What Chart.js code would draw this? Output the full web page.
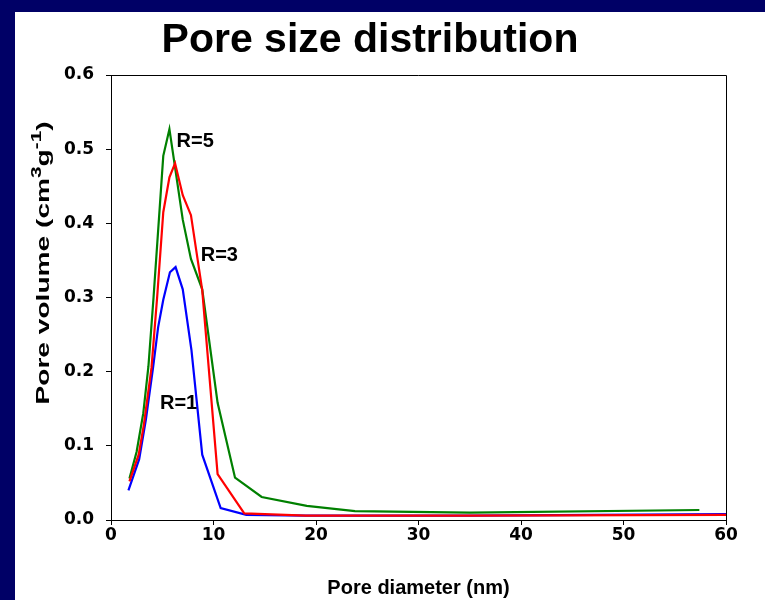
<!DOCTYPE html>
<html>
<head>
<meta charset="utf-8">
<script src="https://cdn.jsdelivr.net/npm/chart.js@4.4.0/dist/chart.umd.min.js"></script>
<style>
  body { margin: 0; background: #000066; }
  #wrap { position: absolute; left: 15px; top: 12px; width: 750px; height: 588px; background: #fff; }
</style>
</head>
<body>
<div id="wrap"><canvas id="chart" width="750" height="588"></canvas></div>
<script>
// pore diameter (nm) / pore volume (cm3/g)
const r1Diameter = [1.7, 2.75, 3.4, 4.1, 4.6, 5.1, 5.75, 6.3, 7.0, 7.85, 8.9, 10.7, 13.2, 19, 24, 35, 60];
const r1Volume   = [0.040, 0.082, 0.135, 0.205, 0.26, 0.297, 0.334, 0.341, 0.311, 0.229, 0.088, 0.016, 0.007, 0.006, 0.006, 0.006, 0.008];

const r3Diameter = [1.8, 2.7, 3.2, 3.95, 4.5, 5.1, 5.7, 6.25, 7.0, 7.8, 8.9, 10.4, 13.0, 19, 24, 35, 60];
const r3Volume   = [0.052, 0.088, 0.128, 0.205, 0.30, 0.415, 0.462, 0.481, 0.438, 0.411, 0.310, 0.062, 0.009, 0.006, 0.006, 0.006, 0.007];

const r5Diameter = [1.8, 2.5, 3.15, 3.65, 4.15, 5.1, 5.7, 7.0, 7.8, 8.9, 10.4, 12.1, 14.7, 19.1, 23.8, 35, 57.4];
const r5Volume   = [0.056, 0.092, 0.144, 0.207, 0.30, 0.491, 0.527, 0.405, 0.352, 0.311, 0.158, 0.057, 0.031, 0.019, 0.012, 0.010, 0.0135];

const seriesNames = ['R=3', 'R=5', 'R=1'];
const seriesColors = ['#ff0000', '#008000', '#0000ff'];

// where the R= labels sit, in data units
const noteText = ['R=5', 'R=3', 'R=1'];
const noteX = [6.4, 8.75, 4.78];
const noteY = [0.511, 0.357, 0.157];

const FONT = "'Liberation Sans', Arial, sans-serif";
const TICKFONT = "'DejaVu Sans', Arial, sans-serif";

function toPoints(xs, ys) {
  return xs.map((x, i) => ({ x: x, y: ys[i] }));
}

const framePlugin = {
  id: 'frame',
  afterDatasetsDraw(chart) {
    const a = chart.chartArea;
    const c = chart.ctx;
    c.save();
    c.strokeStyle = '#000';
    c.lineWidth = 1;
    c.beginPath();
    c.moveTo(a.left, a.top + 0.5);
    c.lineTo(a.right + 0.5, a.top + 0.5);
    c.lineTo(a.right + 0.5, a.bottom);
    c.stroke();

    // R= labels
    c.fillStyle = '#000';
    c.font = 'bold 20px ' + FONT;
    c.textAlign = 'left';
    c.textBaseline = 'middle';
    noteText.forEach((t, i) => {
      c.fillText(t, chart.scales.x.getPixelForValue(noteX[i]), chart.scales.y.getPixelForValue(noteY[i]));
    });
    c.restore();
  },
  afterDraw(chart) {
    const c = chart.ctx;
    c.save();
    c.fillStyle = '#000';
    c.font = 'bold 41px ' + FONT;
    c.textAlign = 'center';
    c.textBaseline = 'alphabetic';
    c.fillText('Pore size distribution', 355, 40);

    // y title with superscripts
    const big = 'bold 19px ' + FONT;
    const small = 'bold 14px ' + FONT;
    const parts = [['Pore volume (cm', big, 0], ['3', small, -8], ['g', big, 0], ['-1', small, -8], [')', big, 0]];
    let w = 0;
    parts.forEach(p => { c.font = p[1]; w += c.measureText(p[0]).width; });
    c.translate(34, 251);
    c.rotate(-Math.PI / 2);
    c.scale(1.48, 1);
    c.textAlign = 'left';
    let x = -w / 2;
    parts.forEach(p => {
      c.font = p[1];
      c.fillText(p[0], x, p[2]);
      x += c.measureText(p[0]).width;
    });
    c.restore();
  }
};

new Chart(document.getElementById('chart'), {
  type: 'line',
  data: {
    datasets: [
      { label: seriesNames[0], data: toPoints(r3Diameter, r3Volume), borderColor: seriesColors[0] },
      { label: seriesNames[1], data: toPoints(r5Diameter, r5Volume), borderColor: seriesColors[1] },
      { label: seriesNames[2], data: toPoints(r1Diameter, r1Volume), borderColor: seriesColors[2] }
    ]
  },
  options: {
    responsive: false,
    animation: false,
    datasets: { line: { borderWidth: 2.2, pointRadius: 0, tension: 0, fill: false } },
    layout: { padding: { top: 63, right: 39, left: 0, bottom: 0 } },
    plugins: { legend: { display: false }, tooltip: { enabled: false } },
    scales: {
      x: {
        type: 'linear', min: 0, max: 60,
        ticks: { stepSize: 10, color: '#000', font: { family: TICKFONT, size: 17, weight: 'bold' }, padding: 0, maxRotation: 0 },
        grid: { drawOnChartArea: false, tickLength: 5, tickColor: '#000' },
        border: { color: '#000', width: 1 },
        title: { display: true, text: 'Pore diameter (nm)', color: '#000', font: { family: FONT, size: 20, weight: 'bold' }, padding: { top: 0, bottom: 0 } },
        afterFit: s => { s.height = 80; }
      },
      y: {
        min: 0, max: 0.6,
        ticks: { stepSize: 0.1, color: '#000', font: { family: TICKFONT, size: 17, weight: 'bold' }, padding: 12, callback: v => v.toFixed(1) },
        grid: { drawOnChartArea: false, tickLength: 5, tickColor: '#000' },
        border: { color: '#000', width: 1 },
        afterFit: s => { s.width = 96; }
      }
    }
  },
  plugins: [framePlugin]
});
</script>
</body>
</html>
